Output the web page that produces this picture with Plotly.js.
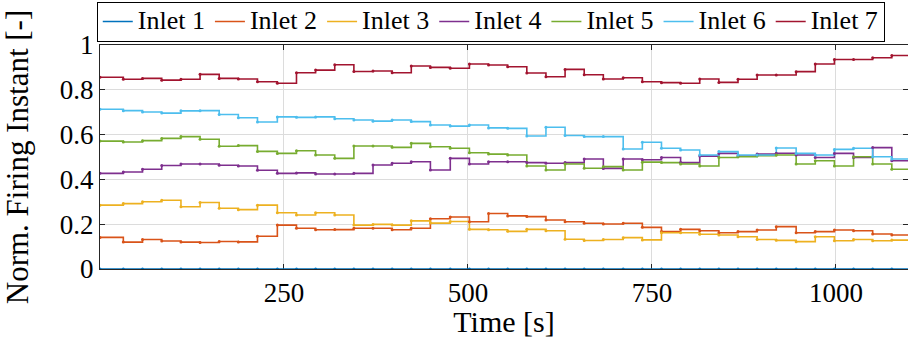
<!DOCTYPE html>
<html>
<head>
<meta charset="utf-8">
<script src="https://cdn.plot.ly/plotly-3.0.1.min.js"></script>
<style>
  html, body { margin: 0; padding: 0; background: #ffffff; }
  #chart { width: 908px; height: 338px; }
</style>
</head>
<body>
<div id="chart"></div>
<script>
// Step start times [s] (controller update instants) and final time
const time = [0, 31.7, 57.8, 83.9, 110, 136, 162, 188, 214, 241, 267, 293, 319, 345, 371, 397, 423, 449, 476, 502, 528, 554, 580, 606, 632, 658, 684, 711, 737, 763, 789, 815, 841, 867, 893, 919, 946, 972, 998, 1024, 1050, 1076, 1100];

const inlet1 = [0, 0, 0, 0, 0, 0, 0, 0, 0, 0, 0, 0, 0, 0, 0, 0, 0, 0, 0, 0, 0, 0, 0, 0, 0, 0, 0, 0, 0, 0, 0, 0, 0, 0, 0, 0, 0, 0, 0, 0, 0, 0, 0];
const inlet2 = [0.141, 0.120, 0.132, 0.125, 0.120, 0.118, 0.123, 0.121, 0.146, 0.196, 0.182, 0.175, 0.176, 0.182, 0.182, 0.175, 0.182, 0.224, 0.232, 0.211, 0.248, 0.237, 0.234, 0.219, 0.211, 0.204, 0.201, 0.204, 0.186, 0.167, 0.177, 0.171, 0.162, 0.167, 0.174, 0.189, 0.162, 0.167, 0.174, 0.171, 0.156, 0.152, 0.152];
const inlet3 = [0.285, 0.292, 0.300, 0.307, 0.278, 0.297, 0.271, 0.265, 0.285, 0.251, 0.241, 0.251, 0.241, 0.196, 0.199, 0.196, 0.215, 0.205, 0.212, 0.177, 0.175, 0.168, 0.177, 0.171, 0.133, 0.127, 0.132, 0.140, 0.130, 0.162, 0.162, 0.155, 0.152, 0.144, 0.132, 0.128, 0.122, 0.144, 0.126, 0.132, 0.126, 0.129, 0.129];
const inlet4 = [0.427, 0.433, 0.445, 0.462, 0.469, 0.469, 0.463, 0.460, 0.441, 0.427, 0.429, 0.424, 0.424, 0.427, 0.464, 0.472, 0.479, 0.442, 0.494, 0.469, 0.479, 0.479, 0.475, 0.472, 0.475, 0.491, 0.449, 0.491, 0.488, 0.498, 0.475, 0.504, 0.516, 0.504, 0.513, 0.517, 0.509, 0.498, 0.516, 0.498, 0.542, 0.483, 0.483];
const inlet5 = [0.571, 0.567, 0.573, 0.583, 0.591, 0.579, 0.548, 0.551, 0.525, 0.516, 0.528, 0.509, 0.494, 0.549, 0.549, 0.543, 0.561, 0.546, 0.539, 0.519, 0.513, 0.509, 0.460, 0.442, 0.469, 0.450, 0.457, 0.442, 0.477, 0.475, 0.469, 0.460, 0.498, 0.501, 0.506, 0.509, 0.469, 0.483, 0.460, 0.501, 0.469, 0.445, 0.445];
const inlet6 = [0.713, 0.707, 0.701, 0.696, 0.706, 0.707, 0.690, 0.675, 0.656, 0.679, 0.677, 0.679, 0.671, 0.665, 0.660, 0.665, 0.658, 0.643, 0.638, 0.643, 0.630, 0.628, 0.594, 0.633, 0.596, 0.591, 0.591, 0.536, 0.566, 0.539, 0.531, 0.509, 0.524, 0.509, 0.509, 0.540, 0.516, 0.509, 0.534, 0.539, 0.501, 0.491, 0.491];
const inlet7 = [0.856, 0.847, 0.851, 0.843, 0.847, 0.869, 0.851, 0.848, 0.836, 0.829, 0.876, 0.888, 0.912, 0.882, 0.884, 0.876, 0.906, 0.900, 0.896, 0.915, 0.911, 0.903, 0.875, 0.858, 0.891, 0.867, 0.848, 0.854, 0.836, 0.832, 0.829, 0.848, 0.833, 0.847, 0.866, 0.866, 0.881, 0.915, 0.935, 0.935, 0.943, 0.953, 0.953];

const seriesNames = ['Inlet 1', 'Inlet 2', 'Inlet 3', 'Inlet 4', 'Inlet 5', 'Inlet 6', 'Inlet 7'];
const seriesValues = [inlet1, inlet2, inlet3, inlet4, inlet5, inlet6, inlet7];
const seriesColors = ['#0072BD', '#D95319', '#EDB120', '#7E2F8E', '#77AC30', '#4DBEEE', '#A2142F'];

const yTickVals = [0, 0.2, 0.4, 0.6, 0.8, 1];
const yTickText = ['0', '0.2', '0.4', '0.6', '0.8', '1'];
const xTickVals = [250, 500, 750, 1000];
const xTickText = ['250', '500', '750', '1000'];

const FONT = '"Liberation Serif", "Times New Roman", serif';

// Step lines (shown in legend)
const lineTraces = seriesNames.map((name, i) => ({
  type: 'scatter',
  mode: 'lines',
  name: '<span style="font-size:26px">' + name + '</span>',
  legendgroup: name,
  x: time,
  y: seriesValues[i],
  line: { color: seriesColors[i], width: 1.6, shape: 'hv' },
  hoverinfo: 'x+y'
}));

// Small sample dots on the same data (not in legend)
const dotTraces = seriesNames.map((name, i) => ({
  type: 'scatter',
  mode: 'markers',
  name: name,
  legendgroup: name,
  showlegend: false,
  x: time,
  y: seriesValues[i],
  marker: { color: seriesColors[i], size: 3 },
  hoverinfo: 'skip'
}));

const layout = {
  width: 908,
  height: 338,
  margin: { l: 100, r: 0, t: 45, b: 69, pad: 0 },
  paper_bgcolor: '#ffffff',
  plot_bgcolor: '#ffffff',
  font: { family: FONT, size: 27, color: '#000000' },
  showlegend: true,
  legend: {
    orientation: 'h',
    x: -0.004,
    xanchor: 'left',
    y: 1.192,
    yanchor: 'top',
    bgcolor: '#ffffff',
    bordercolor: '#000000',
    borderwidth: 1,
    font: { family: FONT, size: 18.5, color: '#000000' },
    itemwidth: 30,
    tracegroupgap: 0,
    traceorder: 'normal'
  },
  xaxis: {
    range: [0, 1098],
    tickvals: xTickVals,
    ticktext: xTickText,
    ticks: 'inside',
    ticklen: 5,
    tickcolor: '#262626',
    showline: true,
    linecolor: '#262626',
    linewidth: 1,
    mirror: 'ticks',
    showgrid: true,
    gridcolor: '#dcdcdc',
    gridwidth: 1,
    zeroline: false,
    layer: 'below traces',
    tickfont: { family: FONT, size: 27, color: '#000000' },
    title: { text: 'Time [s]', font: { family: FONT, size: 30, color: '#000000' }, standoff: 0 }
  },
  yaxis: {
    range: [0, 1],
    tickvals: yTickVals,
    ticktext: yTickText,
    ticks: 'inside',
    ticklen: 5,
    tickcolor: '#262626',
    showline: true,
    linecolor: '#262626',
    linewidth: 1,
    mirror: 'ticks',
    showgrid: true,
    gridcolor: '#dcdcdc',
    gridwidth: 1,
    zeroline: false,
    layer: 'below traces',
    tickfont: { family: FONT, size: 27, color: '#000000' },
    title: { text: 'Norm. Firing Instant [-]', font: { family: FONT, size: 31, color: '#000000' }, standoff: 21 }
  }
};

Plotly.newPlot('chart', lineTraces.concat(dotTraces), layout, { displayModeBar: false, staticPlot: true });
</script>
</body>
</html>
